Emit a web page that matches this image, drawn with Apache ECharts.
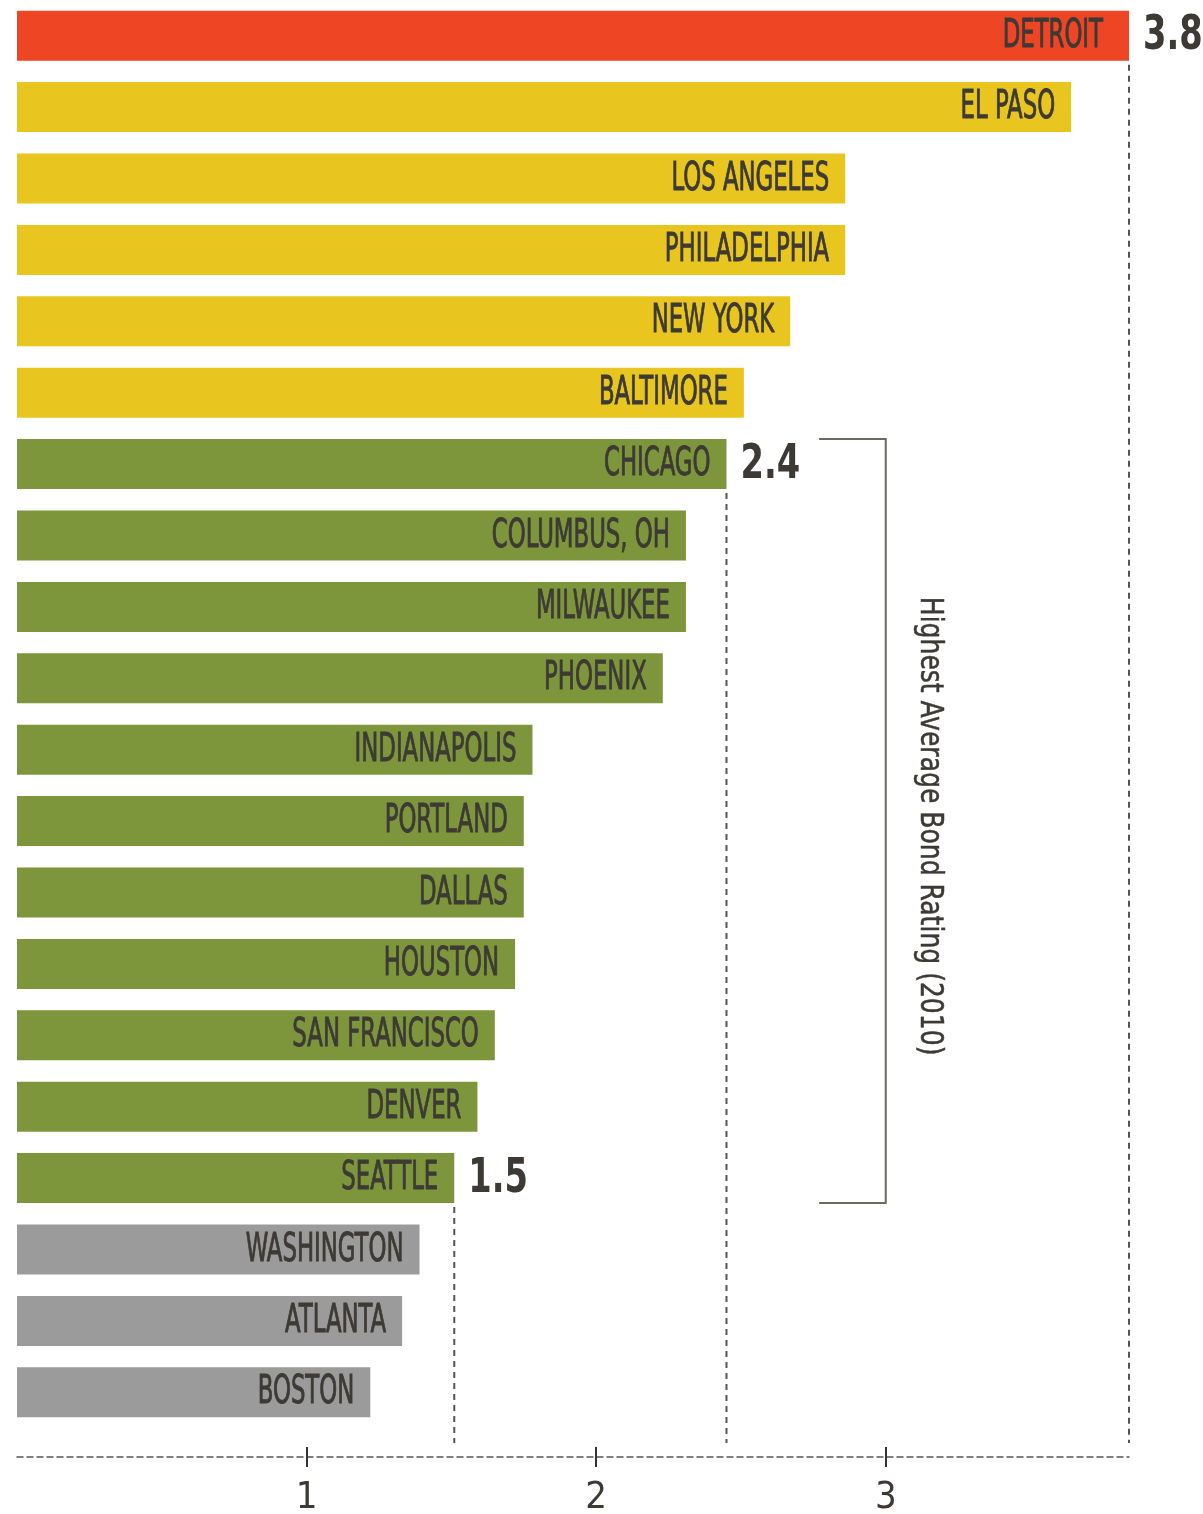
<!DOCTYPE html>
<html>
<head>
<meta charset="utf-8">
<script src="https://cdn.jsdelivr.net/npm/echarts@6/dist/echarts.min.js"></script>
<style>html,body{margin:0;padding:0;background:#fff}#c{width:1203px;height:1514px}</style>
</head>
<body>
<div id="c"></div>
<script>
const cities = ['DETROIT','EL PASO','LOS ANGELES','PHILADELPHIA','NEW YORK','BALTIMORE','CHICAGO','COLUMBUS, OH','MILWAUKEE','PHOENIX','INDIANAPOLIS','PORTLAND','DALLAS','HOUSTON','SAN FRANCISCO','DENVER','SEATTLE','WASHINGTON','ATLANTA','BOSTON'];
const ratings = [3.84,3.64,2.86,2.86,2.67,2.51,2.45,2.31,2.31,2.23,1.78,1.75,1.75,1.72,1.65,1.59,1.51,1.39,1.33,1.22];
const groups = ['worst','high','high','high','high','high','mid','mid','mid','mid','mid','mid','mid','mid','mid','mid','mid','low','low','low'];
const valueLabels = ['3.8','','','','','','2.4','','','','','','','','','','1.5','','',''];
const xTicks = [1,2,3];
const bracketTitle = 'Highest Average Bond Rating (2010)';
const bracketRange = [6,16];
const bracketValue = 3;

const groupColors = {worst:'#EE4524', high:'#E8C61F', mid:'#7E963B', low:'#9B9B9B'};
const textColor = '#3d3a35';
const NARROW = '"Liberation Sans Narrow","DejaVu Sans Condensed","Open Sans",sans-serif';
const BAR_H = 50;

const markedIdx = valueLabels.map((l,i)=>l?i:-1).filter(i=>i>=0);

const chart = echarts.init(document.getElementById('c'), null, {renderer:'canvas'});
chart.setOption({
  animation:false,
  grid:{left:17, right:74, top:0, height:1428, containLabel:false, outerBoundsMode:'none'},
  yAxis:{type:'category', data:cities, inverse:true, show:false},
  xAxis:[
    {type:'value', min:0, max:3.84, interval:1, offset:29, position:'bottom',
     splitLine:{show:false},
     axisLine:{show:true, lineStyle:{color:'#555', width:1.5, type:[6,4]}},
     axisTick:{show:true, customValues:xTicks, length:10, lineStyle:{color:'#333', width:2}},
     axisLabel:{customValues:xTicks, margin:22, color:textColor, fontSize:38, fontFamily:NARROW}},
    {type:'value', min:0, max:3.84, interval:1, offset:29, position:'bottom',
     splitLine:{show:false}, axisLine:{show:false},
     axisTick:{show:true, inside:true, customValues:xTicks, length:10, lineStyle:{color:'#333', width:2}},
     axisLabel:{show:false}}
  ],
  series:[
    {type:'bar', barWidth:BAR_H, xAxisIndex:0,
     data: ratings.map((v,i)=>({value:v, itemStyle:{color:groupColors[groups[i]]}}))},
    {type:'custom', xAxisIndex:0, clip:false, z:5,
     data: ratings.map((v,i)=>[v,i]),
     renderItem:(params, api)=>{
       const i = api.value(1);
       const p = api.coord([api.value(0), i]);
       const children = [{type:'text', x:p[0]-(i===0?26:16), y:p[1]+1, scaleX:0.65,
         style:{text:cities[i], fill:textColor, stroke:textColor, lineWidth:0.9, font:'39px '+NARROW, textAlign:'right', textVerticalAlign:'middle', align:'right', verticalAlign:'middle'}}];
       if (valueLabels[i]) {
         children.push({type:'text', x:p[0]+14, y:p[1]+1, scaleX:0.78,
           style:{text:valueLabels[i], fill:textColor, font:'bold 48px '+NARROW, textAlign:'left', textVerticalAlign:'middle', align:'left', verticalAlign:'middle'}});
       }
       return {type:'group', children};
     }},
    {type:'custom', xAxisIndex:0, clip:false, z:4,
     data: markedIdx.map(i=>[ratings[i], i]),
     renderItem:(params, api)=>{
       const p = api.coord([api.value(0), api.value(1)]);
       const bottom = params.coordSys.y + params.coordSys.height;
       return {type:'line', shape:{x1:p[0], y1:p[1]+BAR_H/2+4, x2:p[0], y2:bottom+15},
         style:{stroke:'#555', lineWidth:2, lineDash:[6,5]}};
     }},
    {type:'custom', xAxisIndex:0, clip:false, z:4,
     data:[[bracketValue, bracketRange[0], bracketRange[1]]],
     renderItem:(params, api)=>{
       const top = api.coord([api.value(0), api.value(1)]);
       const bot = api.coord([api.value(0), api.value(2)]);
       const armX = api.coord([bracketValue-0.23, 0])[0];
       const textX = api.coord([bracketValue+0.15, 0])[0];
       const y1 = top[1]-BAR_H/2, y2 = bot[1]+BAR_H/2;
       return {type:'group', children:[
         {type:'polyline', shape:{points:[[armX,y1],[top[0],y1],[top[0],y2],[armX,y2]]},
          style:{stroke:'#6b6a60', lineWidth:2, fill:null}},
         {type:'text', x:textX, y:(y1+y2)/2+5, rotation:-Math.PI/2, scaleX:0.87,
          style:{text:bracketTitle, fill:textColor, stroke:textColor, lineWidth:0.5, font:'32px '+NARROW, textAlign:'center', textVerticalAlign:'middle', align:'center', verticalAlign:'middle'}}
       ]};
     }}
  ]
});
</script>
</body>
</html>
